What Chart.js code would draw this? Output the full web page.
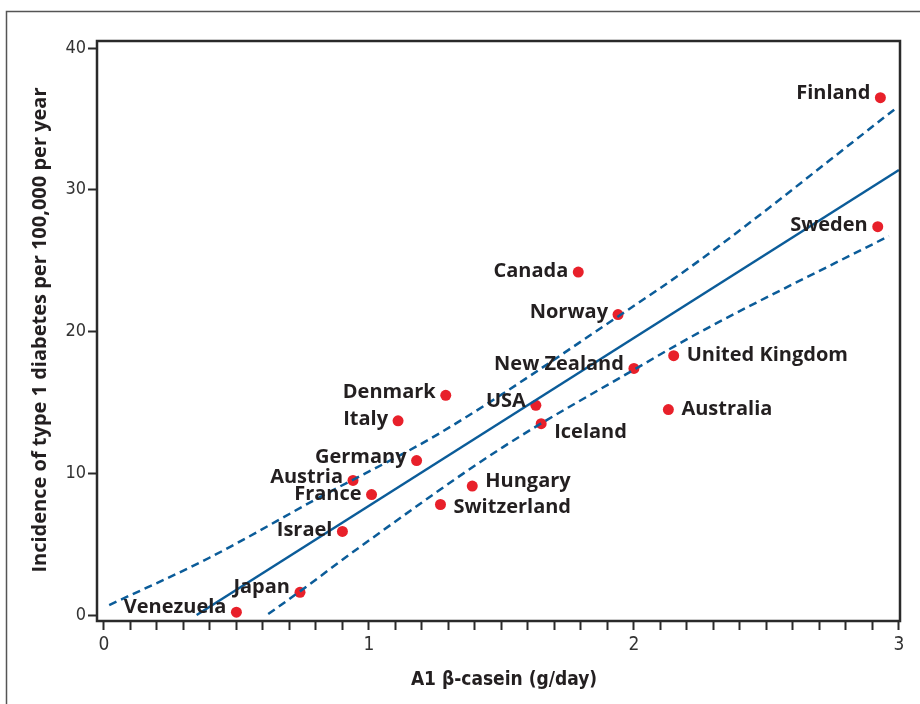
<!DOCTYPE html>
<html>
<head>
<meta charset="utf-8">
<script src="https://cdn.jsdelivr.net/npm/chart.js@4/dist/chart.umd.min.js"></script>
<style>
  html, body { margin: 0; padding: 0; background: #ffffff; }
  #wrap { position: relative; width: 920px; height: 704px; }
  canvas { display: block; }
</style>
</head>
<body>
<div id="wrap"><canvas id="c" width="920" height="704"></canvas></div>
<script>
// ---- data ----
const countries = ["Finland","Sweden","Canada","Norway","New Zealand","United Kingdom","Australia","USA","Iceland","Denmark","Italy","Germany","Austria","France","Hungary","Switzerland","Israel","Japan","Venezuela"];
const caseinIntake = [2.93, 2.92, 1.79, 1.94, 2.00, 2.15, 2.13, 1.63, 1.65, 1.29, 1.11, 1.18, 0.94, 1.01, 1.39, 1.27, 0.90, 0.74, 0.50];
const incidence = [36.5, 27.4, 24.2, 21.2, 17.4, 18.3, 14.5, 14.8, 13.5, 15.5, 13.7, 10.9, 9.5, 8.5, 9.1, 7.8, 5.9, 1.6, 0.2];

const fitX = [0.35, 3.0];
const fitY = [0.0, 31.4];
const upperBandX = [0.02, 0.40, 0.815, 1.268, 1.943, 2.249, 2.99];
const upperBandY = [0.7, 4.06, 8.32, 12.84, 21.1, 25.04, 35.77];
const lowerBandX = [0.62, 0.736, 0.966, 1.506, 2.004, 2.249, 2.962];
const lowerBandY = [0.07, 1.62, 4.8, 11.85, 17.35, 19.96, 26.74];

const xTickValues = [0, 1, 2, 3];
const yTickValues = [0, 10, 20, 30, 40];
const xTitle = "A1 β-casein (g/day)";
const yTitle = "Incidence of type 1 diabetes per 100,000 per year";

// ---- label placement (style, not data) ----
const labelPlacement = {
  "Finland": ["left", -4], "Sweden": ["left", -1], "Canada": ["left", -1], "Norway": ["left", -2],
  "New Zealand": ["left", -4], "United Kingdom": ["right", 0], "Australia": ["right", 0],
  "USA": ["left", -4], "Iceland": ["right", 9], "Denmark": ["left", -3], "Italy": ["left", -2],
  "Germany": ["left", -3], "Austria": ["left", -3], "France": ["left", 0], "Hungary": ["right", -5],
  "Switzerland": ["right", 3], "Israel": ["left", -1], "Japan": ["left", -5], "Venezuela": ["left", -5]
};

const pts = (xs, ys) => xs.map((x, i) => ({ x: x, y: ys[i] }));
const BLUE = "#0b5c99";
const RED = "#e8202a";
const LABEL_FONT = "bold 20px 'Open Sans', 'Noto Sans', sans-serif";
const TICK_FONT_FAMILY = "'Liberation Sans Narrow', 'DejaVu Sans Condensed', 'Liberation Sans', sans-serif";

const decorPlugin = {
  id: "decor",
  beforeDraw(chart) {
    const ctx = chart.ctx;
    ctx.save();
    ctx.strokeStyle = "#555555";
    ctx.lineWidth = 1.5;
    ctx.strokeRect(6.5, 11.5, 1000, 1000);
    ctx.restore();
  },
  afterDraw(chart) {
    const ctx = chart.ctx;
    const a = chart.chartArea;
    const xs = chart.scales.x, ys = chart.scales.y;
    ctx.save();
    // plot box
    ctx.strokeStyle = "#2a2a2a";
    ctx.lineWidth = 2.5;
    ctx.strokeRect(a.left, a.top, a.right - a.left, a.bottom - a.top);
    // point labels
    ctx.font = LABEL_FONT;
    ctx.fillStyle = "#231f20";
    ctx.textBaseline = "middle";
    countries.forEach((name, i) => {
      const px = xs.getPixelForValue(caseinIntake[i]);
      const py = ys.getPixelForValue(incidence[i]);
      const pl = labelPlacement[name];
      if (pl[0] === "left") {
        ctx.textAlign = "right";
        ctx.fillText(name, px - 10, py + pl[1]);
      } else {
        ctx.textAlign = "left";
        ctx.fillText(name, px + 13, py + pl[1]);
      }
    });
    // axis titles
    ctx.fillStyle = "#231f20";
    ctx.textAlign = "center";
    ctx.font = "bold 19px " + TICK_FONT_FAMILY;
    ctx.fillText(xTitle, 504, 680);
    ctx.translate(40, 330);
    ctx.rotate(-Math.PI / 2);
    ctx.font = "bold 20px 'Open Sans', 'Noto Sans', sans-serif";
    ctx.fillText(yTitle, 0, 0);
    ctx.restore();
  }
};

new Chart(document.getElementById("c"), {
  type: "scatter",
  data: {
    datasets: [
      {
        label: "Countries",
        data: pts(caseinIntake, incidence),
        backgroundColor: RED,
        borderColor: RED,
        pointRadius: 5.5,
        pointBorderWidth: 0,
        showLine: false,
        order: 2
      },
      {
        label: "Fit",
        data: pts(fitX, fitY),
        showLine: true,
        borderColor: BLUE,
        borderWidth: 2.5,
        pointRadius: 0,
        fill: false,
        order: 1
      },
      {
        label: "Upper",
        data: pts(upperBandX, upperBandY),
        showLine: true,
        borderColor: BLUE,
        borderWidth: 2.5,
        borderDash: [8, 5],
        pointRadius: 0,
        cubicInterpolationMode: "monotone",
        fill: false,
        order: 1
      },
      {
        label: "Lower",
        data: pts(lowerBandX, lowerBandY),
        showLine: true,
        borderColor: BLUE,
        borderWidth: 2.5,
        borderDash: [8, 5],
        pointRadius: 0,
        cubicInterpolationMode: "monotone",
        fill: false,
        order: 1
      }
    ]
  },
  options: {
    responsive: false,
    animation: false,
    clip: false,
    layout: { padding: { top: 41, right: 20, left: 0, bottom: 0 } },
    plugins: { legend: { display: false }, tooltip: { enabled: false } },
    scales: {
      x: {
        type: "linear",
        min: -0.026,
        max: 3.004,
        afterBuildTicks(scale) {
          const t = [];
          for (let i = 0; i <= 30; i++) t.push({ value: i / 10 });
          scale.ticks = t;
        },
        afterFit(scale) { scale.height = 83; },
        border: { display: false },
        grid: {
          drawOnChartArea: false,
          drawTicks: true,
          tickLength: 9,
          tickWidth: 2,
          tickColor: "#2a2a2a",
          color: "#2a2a2a"
        },
        ticks: {
          autoSkip: false,
          maxRotation: 0,
          padding: 4,
          color: "#333333",
          font: { family: TICK_FONT_FAMILY, size: 19 },
          callback(value) {
            const r = Math.round(value * 10) / 10;
            return xTickValues.includes(r) ? String(r) : "";
          }
        }
      },
      y: {
        type: "linear",
        min: -0.42,
        max: 40.5,
        afterBuildTicks(scale) {
          scale.ticks = yTickValues.map(v => ({ value: v }));
        },
        afterFit(scale) { scale.width = 97; },
        border: { display: false },
        grid: {
          drawOnChartArea: false,
          drawTicks: true,
          tickLength: 9,
          tickWidth: 2,
          tickColor: "#2a2a2a"
        },
        ticks: {
          padding: 2,
          color: "#333333",
          font: { family: TICK_FONT_FAMILY, size: 18 },
          callback(value) { return String(value); }
        }
      }
    }
  },
  plugins: [decorPlugin]
});
</script>
</body>
</html>
